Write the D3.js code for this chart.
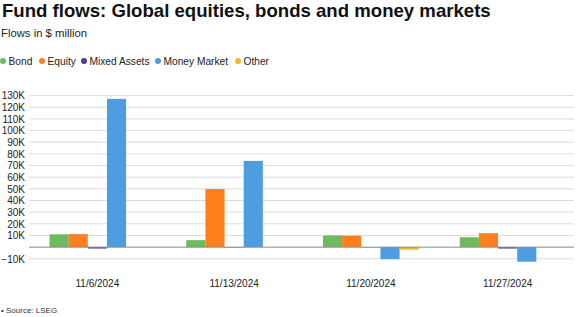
<!DOCTYPE html>
<html>
<head>
<meta charset="utf-8">
<script src="https://cdn.jsdelivr.net/npm/d3@7"></script>
<style>
  body { margin: 0; background: #fff; }
  svg { font-family: "Liberation Sans", Arial, sans-serif; display: block; }
</style>
</head>
<body>
<svg id="chart" width="576" height="317"></svg>
<script>
// data, $ million
var dates = ["11/6/2024", "11/13/2024", "11/20/2024", "11/27/2024"];
var series = ["Bond", "Equity", "Mixed Assets", "Money Market", "Other"];
var bond = [11000, 6000, 10000, 8500];
var equity = [11200, 49800, 9800, 12000];
var mixed = [-1200, -300, -200, -1200];
var money = [127200, 74000, -10300, -12500];
var other = [0, 0, -2200, 0];
var yTicks = [-10000, 10000, 20000, 30000, 40000, 50000, 60000, 70000, 80000,
              90000, 100000, 110000, 120000, 130000];
var colours = ["#6dbb5e", "#ff7f1d", "#4d3b8f", "#4d9de0", "#efb82a"];

var values = [bond, equity, mixed, money, other];

var svg = d3.select("#chart");
var margin = {top: 90, left: 29, right: 0, bottom: 70};
var width = 576, height = 317;

// title block
svg.append("text")
    .attr("x", 2).attr("y", 17)
    .attr("font-size", 18.6).attr("font-weight", "bold")
    .attr("fill", "#111")
    .text("Fund flows: Global equities, bonds and money markets");

svg.append("text")
    .attr("x", 1).attr("y", 37)
    .attr("font-size", 11.3).attr("fill", "#222")
    .text("Flows in $ million");

// legend
var legendX = [3, 42, 84, 158, 238];
var legend = svg.append("g").selectAll("g")
    .data(series)
    .enter().append("g")
    .attr("transform", function(d, i) { return "translate(" + legendX[i] + ",64.5)"; });

legend.append("circle")
    .attr("r", 3)
    .attr("cy", -3.5)
    .attr("fill", function(d, i) { return colours[i]; });

legend.append("text")
    .attr("x", 5.5)
    .attr("font-size", 10.2).attr("fill", "#222")
    .text(function(d) { return d; });

// scales
var x0 = d3.scaleBand()
    .domain(dates)
    .range([margin.left, width - margin.right])
    .paddingInner(0.3)
    .paddingOuter(0.15);

var x1 = d3.scaleBand()
    .domain(series)
    .range([0, x0.bandwidth()]);

var y = d3.scaleLinear()
    .domain([-10000, 130000])
    .range([258.8, 95.6]);

// gridlines
svg.append("g").selectAll("line")
    .data(yTicks)
    .enter().append("line")
    .attr("x1", margin.left).attr("x2", width - 2)
    .attr("y1", function(d) { return y(d); })
    .attr("y2", function(d) { return y(d); })
    .attr("stroke", "#dcdcdc").attr("stroke-width", 1);

var yAxis = d3.axisLeft(y)
    .tickValues(yTicks)
    .tickSize(0)
    .tickPadding(3)
    .tickFormat(function(d) { return (d < 0 ? "\u2212" + (-d / 1000) : d / 1000) + "K"; });

var gy = svg.append("g")
    .attr("transform", "translate(" + (margin.left - 1) + ",0)")
    .call(yAxis);
gy.select(".domain").remove();
gy.selectAll("text")
    .attr("font-size", 10)
    .attr("fill", "#222")
    .attr("font-family", "Liberation Sans, Arial, sans-serif");

// bars
var groups = svg.append("g").selectAll("g")
    .data(dates)
    .enter().append("g")
    .attr("transform", function(d) { return "translate(" + x0(d) + ",0)"; });

groups.selectAll("rect")
    .data(function(d, j) {
        return series.map(function(s, i) { return {key: s, i: i, value: values[i][j]}; });
    })
    .enter().append("rect")
    .attr("x", function(d) { return x1(d.key); })
    .attr("width", x1.bandwidth())
    .attr("y", function(d) { return y(Math.max(0, d.value)); })
    .attr("height", function(d) { return Math.abs(y(d.value) - y(0)); })
    .attr("fill", function(d) { return colours[d.i]; });

// zero line
svg.append("line")
    .attr("x1", margin.left).attr("x2", width - 2)
    .attr("y1", y(0)).attr("y2", y(0))
    .attr("stroke", "#8a8a8a").attr("stroke-width", 1);

// x axis labels
var xAxis = d3.axisBottom(x0).tickSize(0).tickPadding(0);
var gx = svg.append("g")
    .attr("transform", "translate(0,279.5)")
    .call(xAxis);
gx.select(".domain").remove();
gx.selectAll("text")
    .attr("font-size", 10)
    .attr("fill", "#222")
    .attr("font-family", "Liberation Sans, Arial, sans-serif");

// source
svg.append("text")
    .attr("x", 1).attr("y", 313)
    .attr("font-size", 8).attr("fill", "#333")
    .text("\u2022 Source: LSEG");
</script>
</body>
</html>
